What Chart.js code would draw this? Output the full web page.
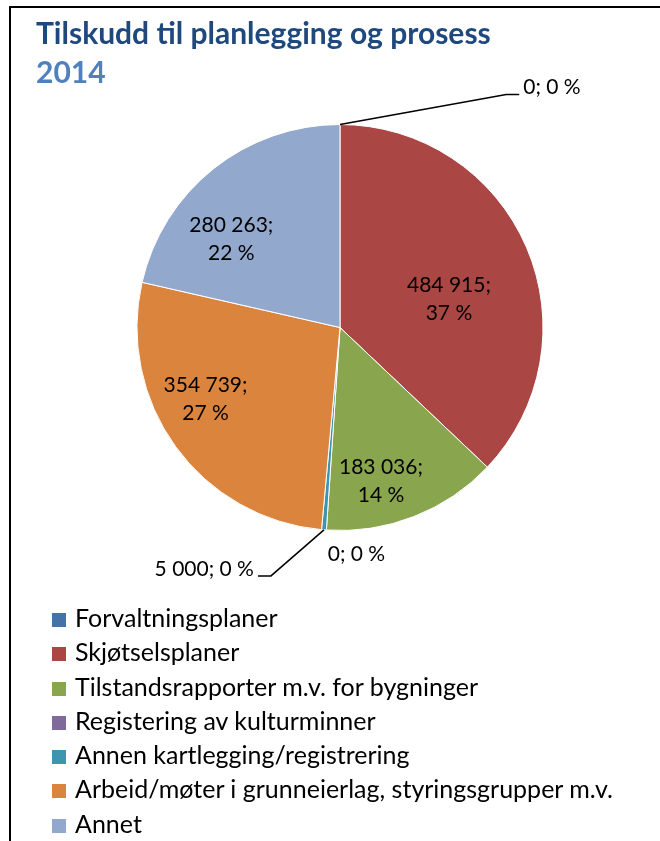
<!DOCTYPE html>
<html>
<head>
<meta charset="utf-8">
<script src="https://cdn.jsdelivr.net/npm/chart.js@4/dist/chart.umd.min.js"></script>
<style>
  html, body { margin: 0; padding: 0; background: #fff; }
  body { width: 660px; height: 841px; position: relative; overflow: hidden; font-family: Lato, "Open Sans", sans-serif; }
  #frame { position: absolute; left: 9px; top: 6px; right: -5px; bottom: -5px; border-left: 2px solid #000; border-top: 2px solid #000; }
  #chart { position: absolute; left: 0; top: 0; }
  .t1, .t2 { position: absolute; left: 36px; font-weight: bold; font-size: 30px; white-space: nowrap; line-height: 36px; }
  .t1 { top: 14px; color: #1F497D; }
  .t2 { top: 53px; color: #4F81BD; }
  #legend { position: absolute; left: 52px; top: 603px; margin: 0; padding: 0; list-style: none; }
  #legend li { height: 34.3px; line-height: 28px; font-size: 25px; color: #000; white-space: nowrap; }
  #legend span { display: inline-block; width: 14px; height: 14px; margin-right: 9px; vertical-align: 0px; }
</style>
</head>
<body>
<div id="frame"></div>
<canvas id="chart" width="660" height="841"></canvas>
<div class="t1">Tilskudd til planlegging og prosess</div>
<div class="t2">2014</div>
<ul id="legend"></ul>
<script>
// Data
const categories = [
  'Forvaltningsplaner',
  'Skjøtselsplaner',
  'Tilstandsrapporter m.v. for bygninger',
  'Registering av kulturminner',
  'Annen kartlegging/registrering',
  'Arbeid/møter i grunneierlag, styringsgrupper m.v.',
  'Annet'
];
const amounts = [0, 484915, 183036, 0, 5000, 354739, 280263];
const percentLabels = [0, 37, 14, 0, 0, 27, 22];
const colors = ['#4572A7', '#AA4643', '#89A54E', '#80699B', '#3D96AE', '#DB843D', '#92A8CD'];

const fmt = (n) => String(n).replace(/\B(?=(\d{3})+(?!\d))/g, ' ');

// legend (one row per category, like the Excel original)
const ul = document.getElementById('legend');
categories.forEach((c, i) => {
  const li = document.createElement('li');
  const sq = document.createElement('span');
  sq.style.background = colors[i];
  li.appendChild(sq);
  li.appendChild(document.createTextNode(c));
  ul.appendChild(li);
});

// where to put each data label: da = degrees added to slice middle, f = fraction of radius
// outside labels get a leader line with a short horizontal tail
const labelPlace = [
  { da: 35.5, f: 1.41, out: 'right' },
  { da: 8.5, f: 0.555 },
  { da: 6.4, f: 0.783 },
  { da: -8, f: 1.12, out: 'none' },
  { da: 11, f: 1.27, out: 'left' },
  { da: 8, f: 0.75 },
  { da: -12.3, f: 0.69 }
];

const sliceLabels = {
  id: 'sliceLabels',
  afterDatasetsDraw(chart) {
    const ctx = chart.ctx;
    const meta = chart.getDatasetMeta(0);
    ctx.save();
    ctx.font = '21px Lato, "Open Sans", sans-serif';
    ctx.fillStyle = '#000';
    ctx.strokeStyle = '#000';
    ctx.lineWidth = 1.5;
    meta.data.forEach((arc, i) => {
      const p = arc.getProps(['x', 'y', 'startAngle', 'endAngle', 'outerRadius'], true);
      const mid = (p.startAngle + p.endAngle) / 2;
      const place = labelPlace[i];
      const a = mid + place.da * Math.PI / 180;
      const px = p.x + Math.cos(a) * p.outerRadius * place.f;
      const py = p.y + Math.sin(a) * p.outerRadius * place.f;
      const txt1 = fmt(amounts[i]) + ';';
      const txt2 = percentLabels[i] + ' %';
      ctx.textBaseline = 'middle';
      if (!place.out) {
        ctx.textAlign = 'center';
        ctx.fillText(txt1, px, py - 14);
        ctx.fillText(txt2, px, py + 14);
        return;
      }
      const one = txt1 + ' ' + txt2;
      if (place.out === 'none') {
        ctx.textAlign = 'center';
        ctx.fillText(one, px, py);
        return;
      }
      const ex = p.x + Math.cos(mid) * p.outerRadius;
      const ey = p.y + Math.sin(mid) * p.outerRadius;
      const dir = place.out === 'right' ? 1 : -1;
      ctx.beginPath();
      ctx.moveTo(ex, ey);
      ctx.lineTo(px, py);
      ctx.lineTo(px + dir * 13, py);
      ctx.stroke();
      ctx.textAlign = dir > 0 ? 'left' : 'right';
      ctx.fillText(one, px + dir * 17, py - 7);
    });
    ctx.restore();
  }
};

new Chart(document.getElementById('chart').getContext('2d'), {
  type: 'pie',
  data: {
    labels: categories,
    datasets: [{
      data: amounts,
      backgroundColor: colors,
      borderColor: '#fff',
      borderWidth: 1
    }]
  },
  options: {
    responsive: false,
    animation: false,
    layout: { padding: { left: 136, right: 116, top: 124, bottom: 310 } },
    plugins: {
      legend: { display: false },
      tooltip: { enabled: false },
      title: { display: false }
    }
  },
  plugins: [sliceLabels]
});
</script>
</body>
</html>
